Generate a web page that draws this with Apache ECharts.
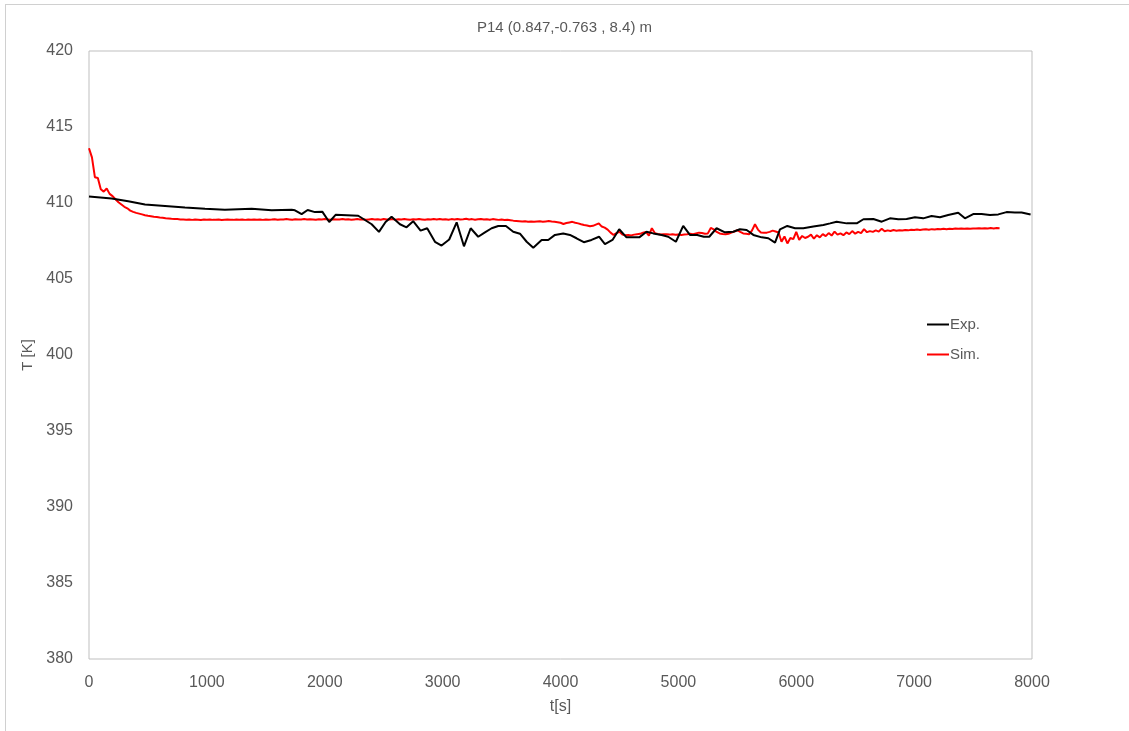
<!DOCTYPE html>
<html>
<head>
<meta charset="utf-8">
<script src="https://cdn.jsdelivr.net/npm/echarts@6/dist/echarts.min.js"></script>
<style>
  html, body { margin: 0; padding: 0; background: #fff; overflow: hidden; }
  #frame { position: absolute; left: 5px; top: 4px; width: 1130px; height: 740px; border-top: 1px solid #d0d0d0; border-left: 1px solid #d0d0d0; }
  #chart { position: absolute; left: 0; top: 0; width: 1129px; height: 731px; }
</style>
</head>
<body>
<div id="frame"></div>
<div id="chart"></div>
<script>
// Measured temperature at probe P14 (time in s, temperature in K)
const expTime = [0, 192, 333, 475, 645, 814, 984, 1153, 1380, 1550, 1719, 1747, 1804, 1855, 1917, 1979, 2038, 2092, 2284, 2398, 2460, 2516, 2567, 2638, 2694, 2750, 2813, 2869, 2935, 2991, 3056, 3119, 3181, 3238, 3302, 3359, 3416, 3472, 3537, 3599, 3656, 3713, 3769, 3840, 3896, 3953, 4023, 4080, 4136, 4198, 4263, 4327, 4377, 4441, 4498, 4560, 4617, 4668, 4730, 4787, 4858, 4914, 4979, 5041, 5098, 5160, 5216, 5262, 5324, 5395, 5466, 5522, 5579, 5636, 5707, 5763, 5820, 5862, 5924, 5990, 6060, 6145, 6230, 6287, 6343, 6428, 6513, 6570, 6654, 6725, 6795, 6866, 6936, 7007, 7077, 7148, 7219, 7289, 7374, 7431, 7501, 7572, 7643, 7714, 7784, 7855, 7912, 7988];
const expTemp = [410.42, 410.3, 410.12, 409.9, 409.8, 409.7, 409.62, 409.56, 409.62, 409.52, 409.56, 409.52, 409.27, 409.54, 409.4, 409.43, 408.75, 409.22, 409.16, 408.6, 408.1, 408.75, 409.1, 408.6, 408.4, 408.8, 408.18, 408.34, 407.45, 407.2, 407.6, 408.73, 407.15, 408.34, 407.78, 408.07, 408.34, 408.49, 408.49, 408.11, 407.98, 407.45, 407.06, 407.57, 407.57, 407.9, 408.0, 407.9, 407.68, 407.42, 407.57, 407.78, 407.3, 407.57, 408.27, 407.74, 407.74, 407.74, 408.11, 408.0, 407.9, 407.78, 407.45, 408.49, 407.9, 407.9, 407.78, 407.78, 408.34, 408.07, 408.11, 408.27, 408.22, 407.9, 407.74, 407.68, 407.39, 408.27, 408.49, 408.34, 408.34, 408.45, 408.55, 408.66, 408.77, 408.66, 408.66, 408.93, 408.95, 408.77, 408.99, 408.93, 408.95, 409.06, 408.99, 409.14, 409.06, 409.21, 409.36, 408.99, 409.27, 409.27, 409.21, 409.25, 409.4, 409.38, 409.38, 409.25];

// Simulated temperature, sampled every SIM_STEP seconds from t = 0
const SIM_STEP = 25;
const simTemp = [
  413.6, 413.0, 411.7, 411.65, 410.9, 410.75, 410.95, 410.6, 410.45, 410.25,
  410.05, 409.9, 409.75, 409.65, 409.5, 409.42, 409.35, 409.3, 409.25, 409.2,
  409.16, 409.13, 409.1, 409.08, 409.05, 409.03, 409.0, 408.98, 408.96, 408.95,
  408.94, 408.92, 408.91,
  408.90, 408.92, 408.89, 408.91, 408.90, 408.88, 408.91, 408.90, 408.92, 408.89,
  408.90, 408.91, 408.88, 408.90, 408.92, 408.90, 408.89, 408.91, 408.90, 408.92,
  408.89, 408.91, 408.90, 408.92, 408.90, 408.91, 408.89, 408.92, 408.90, 408.91,
  408.93, 408.90, 408.92, 408.91, 408.94, 408.92, 408.90, 408.93, 408.91, 408.92,
  408.94, 408.91, 408.93, 408.92, 408.90, 408.93, 408.91, 408.94, 408.92, 408.90,
  408.93, 408.91, 408.92, 408.95, 408.91, 408.93, 408.90, 408.92, 408.94, 408.91,
  408.93, 408.90, 408.92, 408.94, 408.91, 408.93, 408.90, 408.95, 408.91, 408.92,
  408.94, 408.90, 408.93, 408.91, 408.94, 408.92, 408.90, 408.93, 408.91, 408.94,
  408.92, 408.90, 408.93, 408.91, 408.94, 408.92, 408.95, 408.91, 408.93, 408.90,
  408.94, 408.92, 408.95, 408.91, 408.93, 408.96, 408.92, 408.94, 408.90, 408.93,
  408.95, 408.91, 408.93, 408.90, 408.94, 408.92, 408.89, 408.91, 408.88, 408.90,
  408.87, 408.84,
  408.82, 408.80, 408.78, 408.80, 408.77, 408.79, 408.76, 408.78, 408.80, 408.77,
  408.79, 408.81, 408.78, 408.76, 408.74, 408.70,
  408.62, 408.68, 408.72, 408.76, 408.70, 408.66, 408.60, 408.55, 408.52, 408.47,
  408.50, 408.58, 408.66, 408.45, 408.38, 408.25, 408.05, 407.90, 408.02, 408.10,
  407.92, 407.88, 407.90, 407.87, 407.92, 407.95, 407.97, 408.05, 408.10, 407.85,
  408.34, 408.02, 407.96, 407.93, 407.95, 407.94, 407.92, 407.95, 407.91, 407.93,
  407.90, 407.92, 407.94, 407.97, 407.95, 408.00, 408.05, 408.02, 407.98, 408.00,
  408.36, 408.27, 408.10, 408.00, 407.96, 407.94, 407.98, 408.06, 408.12, 408.22,
  408.10, 408.00, 407.97, 407.94, 408.20, 408.60, 408.25, 408.06, 408.04, 408.05,
  408.10, 408.18, 408.12, 408.06, 407.45, 407.80,
  407.34, 407.70, 407.62, 408.10, 407.58, 407.83, 407.70, 407.78, 407.92, 407.65,
  407.88, 407.74, 407.95, 407.82, 408.02, 407.86, 408.12, 407.92, 408.00, 407.88,
  408.06, 407.95, 408.15, 407.98, 408.10, 408.02, 408.28, 408.08,
  408.15, 408.10, 408.20, 408.12, 408.30, 408.14, 408.20, 408.16, 408.22, 408.18,
  408.21, 408.19, 408.23, 408.20, 408.24, 408.22, 408.26, 408.23, 408.25, 408.27,
  408.24, 408.28, 408.26, 408.29, 408.27, 408.30, 408.28, 408.31, 408.29, 408.32,
  408.30, 408.32, 408.31, 408.33, 408.31, 408.33, 408.32, 408.34, 408.32, 408.34,
  408.33, 408.35, 408.33, 408.35, 408.34
];

const xTicks = { min: 0, max: 8000, interval: 1000 };
const yTicks = { min: 380, max: 420, interval: 5 };

const expData = expTime.map((t, i) => [t, expTemp[i]]);
const simData = simTemp.map((v, i) => [i * SIM_STEP, v]);

const FONT = 'Liberation Sans';
const TXT = '#595959';

const chart = echarts.init(document.getElementById('chart'), null, { renderer: 'canvas' });
chart.setOption({
  animation: false,
  textStyle: { fontFamily: FONT },
  title: {
    text: 'P14 (0.847,-0.763 , 8.4) m',
    left: 'center',
    top: 15,
    textStyle: { fontFamily: FONT, fontSize: 15, fontWeight: 'normal', color: TXT }
  },
  grid: {
    left: 89, right: 97, top: 51, bottom: 72,
    show: true, borderColor: '#bfbfbf', borderWidth: 1, backgroundColor: 'transparent'
  },
  legend: {
    orient: 'vertical',
    left: 922,
    top: 312,
    itemGap: 15,
    itemWidth: 22,
    itemHeight: 2,
    icon: 'rect',
    textStyle: { fontFamily: FONT, fontSize: 15, color: TXT, padding: [0, 0, 0, -4] },
    data: ['Exp.', 'Sim.']
  },
  xAxis: {
    type: 'value',
    min: xTicks.min, max: xTicks.max, interval: xTicks.interval,
    name: 't[s]',
    nameLocation: 'middle',
    nameGap: 40,
    nameTextStyle: { fontFamily: FONT, fontSize: 16, color: TXT },
    axisLine: { show: false },
    axisTick: { show: false },
    splitLine: { show: false },
    axisLabel: { fontFamily: FONT, fontSize: 16, color: TXT, margin: 16, formatter: v => String(v) }
  },
  yAxis: {
    type: 'value',
    min: yTicks.min, max: yTicks.max, interval: yTicks.interval,
    name: 'T [K]',
    nameLocation: 'middle',
    nameGap: 49,
    nameRotate: 90,
    nameTextStyle: { fontFamily: FONT, fontSize: 15, color: TXT },
    axisLine: { show: false },
    axisTick: { show: false },
    splitLine: { show: false },
    axisLabel: { fontFamily: FONT, fontSize: 16, color: TXT, margin: 16, formatter: v => String(v) }
  },
  series: [
    {
      name: 'Exp.',
      type: 'line',
      data: expData,
      showSymbol: false,
      color: '#000000',
      lineStyle: { width: 2, color: '#000000' },
      z: 3
    },
    {
      name: 'Sim.',
      type: 'line',
      data: simData,
      showSymbol: false,
      color: '#ff0000',
      lineStyle: { width: 2, color: '#ff0000' },
      z: 2
    }
  ]
});
</script>
</body>
</html>
